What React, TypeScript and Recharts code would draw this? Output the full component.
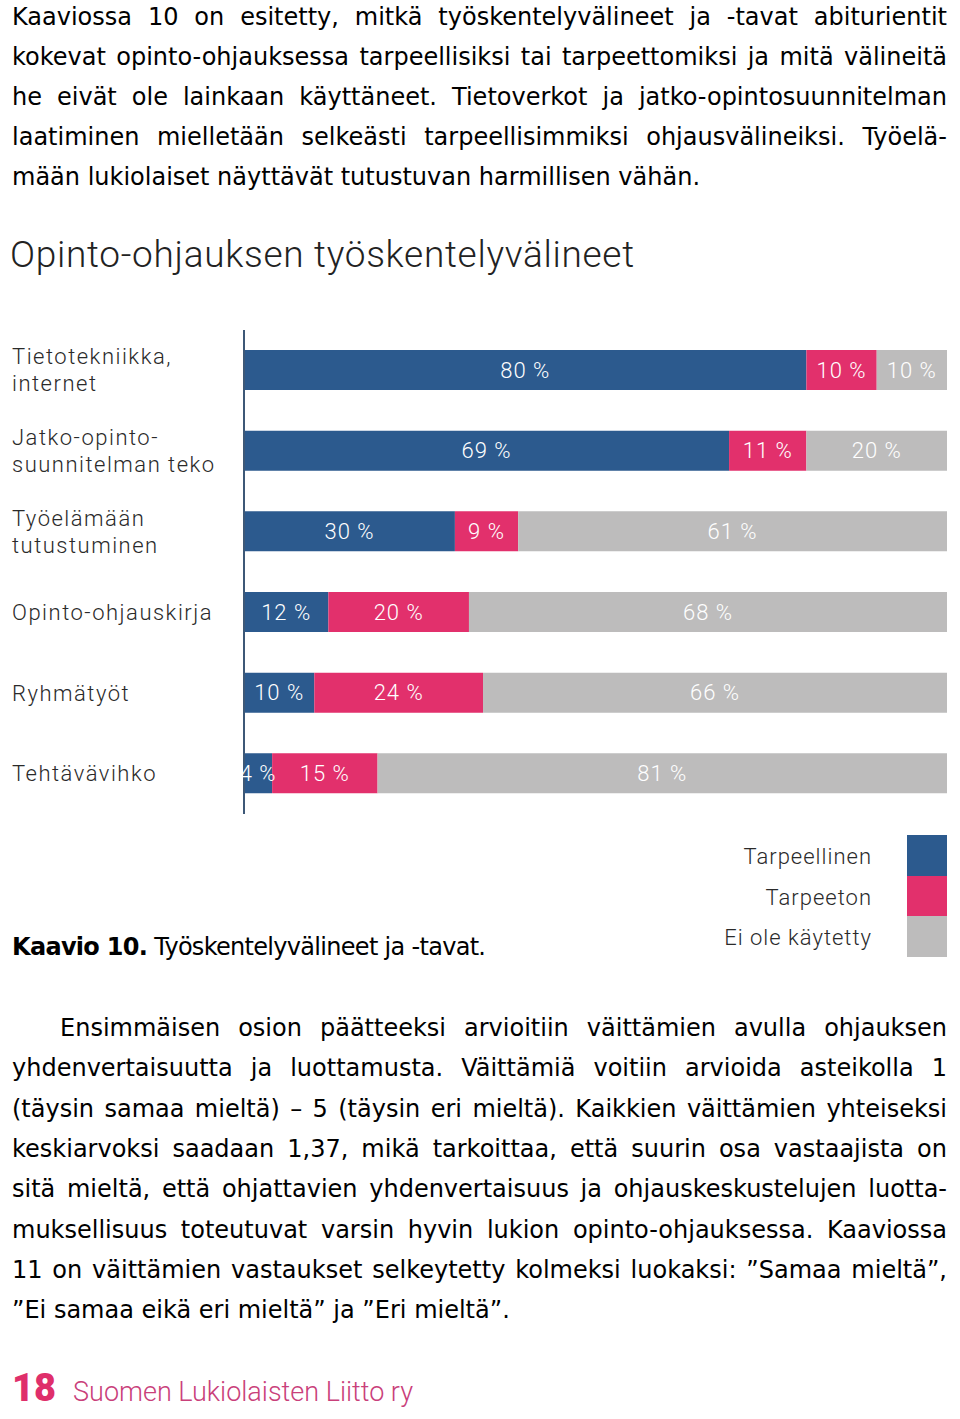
import { BarChart, Bar, XAxis, YAxis, LabelList } from 'recharts'

const CATEGORIES = [
  'Tietotekniikka,\ninternet',
  'Jatko-opinto-\nsuunnitelman teko',
  'Työelämään\ntutustuminen',
  'Opinto-ohjauskirja',
  'Ryhmätyöt',
  'Tehtävävihko',
]
const TARPEELLINEN = [80, 69, 30, 12, 10, 4]
const TARPEETON = [10, 11, 9, 20, 24, 15]
const EI_KAYTETTY = [10, 20, 61, 68, 66, 81]

const SERIES = [
  { key: 'tarpeellinen', name: 'Tarpeellinen', color: '#2c5a8e' },
  { key: 'tarpeeton', name: 'Tarpeeton', color: '#e2306c' },
  { key: 'eiKaytetty', name: 'Ei ole käytetty', color: '#bdbcbc' },
]

const INTRO_LINES = [
  'Kaaviossa 10 on esitetty, mitkä työskentelyvälineet ja -tavat abiturientit',
  'kokevat opinto-ohjauksessa tarpeellisiksi tai tarpeettomiksi ja mitä välineitä',
  'he eivät ole lainkaan käyttäneet. Tietoverkot ja jatko-opintosuunnitelman',
  'laatiminen mielletään selkeästi tarpeellisimmiksi ohjausvälineiksi. Työelä-',
  'mään lukiolaiset näyttävät tutustuvan harmillisen vähän.',
]

const OUTRO_LINES = [
  'Ensimmäisen osion päätteeksi arvioitiin väittämien avulla ohjauksen',
  'yhdenvertaisuutta ja luottamusta. Väittämiä voitiin arvioida asteikolla 1',
  '(täysin samaa mieltä) – 5 (täysin eri mieltä). Kaikkien väittämien yhteiseksi',
  'keskiarvoksi saadaan 1,37, mikä tarkoittaa, että suurin osa vastaajista on',
  'sitä mieltä, että ohjattavien yhdenvertaisuus ja ohjauskeskustelujen luotta-',
  'muksellisuus toteutuvat varsin hyvin lukion opinto-ohjauksessa. Kaaviossa',
  '11 on väittämien vastaukset selkeytetty kolmeksi luokaksi: ”Samaa mieltä”,',
  '”Ei samaa eikä eri mieltä” ja ”Eri mieltä”.',
]

const BODY_FONT = '"DejaVu Sans", sans-serif'
const CHART_FONT = 'Roboto, "Noto Sans", sans-serif'

const data = CATEGORIES.map((name, i) => ({
  name,
  tarpeellinen: TARPEELLINEN[i],
  tarpeeton: TARPEETON[i],
  eiKaytetty: EI_KAYTETTY[i],
}))

function CategoryTick({ y, payload }: any) {
  const lines = String(payload.value).split('\n')
  const start = -((lines.length - 1) * 27) / 2
  return (
    <g>
      {lines.map((line, i) => (
        <text
          key={i}
          x={12}
          y={y + start + i * 27}
          dominantBaseline="central"
          fill="#2a2a2a"
          fontSize={22}
          fontWeight={300}
          letterSpacing={1.5}
          fontFamily={CHART_FONT}
        >
          {line}
        </text>
      ))}
    </g>
  )
}

function ValueLabel({ x, y, width, height, value }: any) {
  return (
    <text
      x={x + width / 2}
      y={y + height / 2}
      textAnchor="middle"
      dominantBaseline="central"
      fill="#ffffff"
      fontSize={22}
      fontWeight={300}
      letterSpacing={1}
      fontFamily={CHART_FONT}
    >
      {`${value} %`}
    </text>
  )
}

function Line({ text, top, last, indent = 0 }: { text: string; top: number; last?: boolean; indent?: number }) {
  return (
    <div
      style={{
        position: 'absolute',
        left: 12 + indent,
        top,
        width: 935 - indent,
        height: 40,
        lineHeight: '40px',
        fontSize: 24,
        fontFamily: BODY_FONT,
        color: '#000',
        textAlign: 'justify',
        textAlignLast: last ? 'left' : 'justify',
      }}
    >
      {text}
    </div>
  )
}

export default function App() {
  return (
    <div
      style={{
        position: 'absolute',
        left: 0,
        top: 0,
        width: 960,
        height: 1419,
        background: '#fff',
        overflow: 'hidden',
      }}
    >
      {INTRO_LINES.map((t, i) => (
        <Line key={i} text={t} top={-3 + i * 40} last={i === INTRO_LINES.length - 1} />
      ))}

      <div
        style={{
          position: 'absolute',
          left: 10,
          top: 230,
          fontSize: 37,
          fontWeight: 300,
          letterSpacing: 0.7,
          fontFamily: CHART_FONT,
          color: '#222',
          lineHeight: '50px',
        }}
      >
        Opinto-ohjauksen työskentelyvälineet
      </div>

      <div style={{ position: 'absolute', left: 0, top: 330 }}>
        <BarChart
          width={960}
          height={484}
          data={data}
          layout="vertical"
          margin={{ top: 0, right: 13, bottom: 0, left: 0 }}
          barSize={40}
        >
          <XAxis type="number" domain={[0, 100]} hide />
          <YAxis
            type="category"
            dataKey="name"
            width={244}
            tickLine={false}
            axisLine={{ stroke: '#3d5877', strokeWidth: 2 }}
            tick={<CategoryTick />}
            interval={0}
          />
          {SERIES.map((s) => (
            <Bar key={s.key} dataKey={s.key} name={s.name} stackId="a" fill={s.color} isAnimationActive={false}>
              <LabelList dataKey={s.key} content={<ValueLabel />} />
            </Bar>
          ))}
        </BarChart>
      </div>

      {SERIES.map((s, i) => (
        <div key={s.key}>
          <div
            style={{
              position: 'absolute',
              right: 960 - 872,
              top: 837 + i * 40.5,
              height: 40,
              lineHeight: '40px',
              fontSize: 22,
              fontWeight: 300,
              letterSpacing: 1,
              fontFamily: CHART_FONT,
              color: '#2a2a2a',
              whiteSpace: 'nowrap',
            }}
          >
            {s.name}
          </div>
          <div
            style={{
              position: 'absolute',
              left: 907,
              top: 835 + i * 40.7,
              width: 40,
              height: 41,
              background: s.color,
            }}
          />
        </div>
      ))}

      <div
        style={{
          position: 'absolute',
          left: 12,
          top: 927,
          lineHeight: '40px',
          fontSize: 24,
          letterSpacing: -0.7,
          fontFamily: BODY_FONT,
          color: '#000',
          whiteSpace: 'nowrap',
        }}
      >
        <b>Kaavio 10.</b> Työskentelyvälineet ja -tavat.
      </div>

      {OUTRO_LINES.map((t, i) => (
        <Line
          key={i}
          text={t}
          top={1008 + i * 40.3}
          indent={i === 0 ? 48 : 0}
          last={i === OUTRO_LINES.length - 1}
        />
      ))}

      <div
        style={{
          position: 'absolute',
          left: 12,
          top: 1364,
          lineHeight: '48px',
          whiteSpace: 'nowrap',
          fontFamily: CHART_FONT,
        }}
      >
        <span style={{ fontSize: 38, fontWeight: 900, color: '#df2f6b' }}>18</span>
        <span style={{ fontSize: 27, fontWeight: 300, color: '#c9407a', marginLeft: 17 }}>
          Suomen Lukiolaisten Liitto ry
        </span>
      </div>
    </div>
  )
}
